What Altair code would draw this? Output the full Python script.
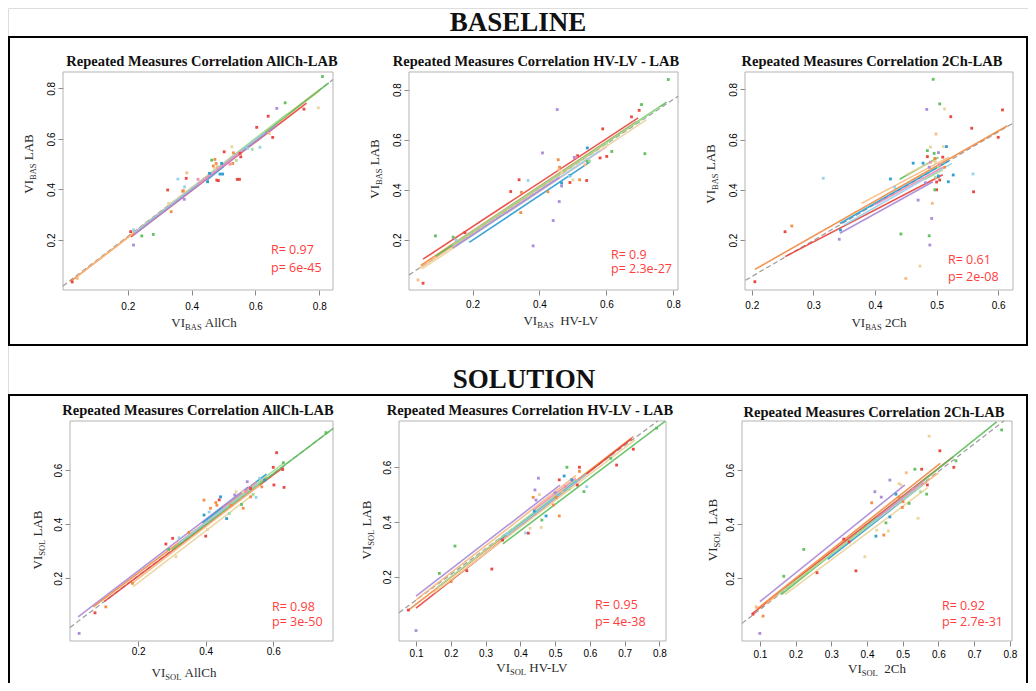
import altair as alt
import pandas as pd

SERIF = "Liberation Serif"
SANS = "Open Sans"
RED_TXT = "#FF3D3D"
TXT = "#2b2b2b"
W, H = 1020, 675

SUBJECTS = ["S1", "S2", "S3", "S4", "S5", "S6", "S7", "S8", "S9", "S10"]
SUBJECT_COLORS = ["#E8413A", "#F08A3E", "#F7B77D", "#E9D39A", "#5CBF5C",
                  "#A5DC9B", "#259BD3", "#92D0EC", "#A988D8", "#F18BB5"]

# ---------------- BASELINE : AllCh ----------------
P1_X = [0.810,0.693,0.667,0.797,0.752,0.640,0.604,0.654,0.643,0.614,0.590,0.575,0.531,0.502,0.526,0.552,0.463,0.477,0.494,0.489,0.456,0.472,0.480,0.479,0.550,0.383,0.357,0.385,0.378,0.372,0.325,0.377,0.336,0.328,0.280,0.244,0.209,0.218,0.218,0.042,0.026,0.420,0.520,0.450,0.540,0.484,0.543,0.497,0.450,0.554,0.529,0.473,0.468,0.374]
P1_Y = [0.847,0.743,0.721,0.723,0.718,0.690,0.646,0.606,0.622,0.567,0.559,0.562,0.545,0.549,0.569,0.543,0.516,0.503,0.503,0.461,0.464,0.482,0.490,0.437,0.440,0.444,0.441,0.466,0.410,0.393,0.398,0.361,0.312,0.345,0.222,0.216,0.233,0.240,0.180,0.048,0.034,0.440,0.500,0.430,0.515,0.435,0.440,0.461,0.431,0.529,0.503,0.519,0.493,0.395]
P1_S = [4,4,8,3,0,0,0,0,2,7,5,7,1,0,3,0,4,1,6,6,6,3,2,0,0,0,7,2,7,1,0,8,1,3,4,4,0,7,8,2,0,9,9,5,5,0,0,6,6,0,1,1,1,1]
P1_LS = [0,1,2,3,4,5,6,7,8,9]
P1_LX0 = [0.21,0.02,0.04,0.33,0.24,0.45,0.45,0.22,0.22,0.42]
P1_LX1 = [0.76,0.66,0.80,0.80,0.83,0.70,0.50,0.63,0.67,0.56]
P1_LY0 = [0.212,0.035,0.055,0.34,0.245,0.455,0.44,0.228,0.222,0.42]
P1_LY1 = [0.742,0.657,0.79,0.795,0.822,0.70,0.49,0.625,0.658,0.555]
P1_DX = [-0.003, 0.843]
P1_DY = [0.018, 0.835]

# ---------------- BASELINE : HV-LV ----------------
P2_X = [0.785,0.705,0.698,0.675,0.453,0.589,0.715,0.616,0.601,0.581,0.543,0.543,0.536,0.514,0.504,0.409,0.456,0.460,0.458,0.491,0.489,0.500,0.466,0.466,0.491,0.466,0.541,0.520,0.339,0.366,0.314,0.346,0.425,0.459,0.344,0.441,0.381,0.089,0.142,0.177,0.037,0.052,0.150,0.550,0.600,0.510]
P2_Y = [0.840,0.740,0.717,0.691,0.720,0.643,0.544,0.553,0.533,0.527,0.567,0.513,0.500,0.536,0.529,0.547,0.520,0.490,0.480,0.457,0.454,0.440,0.470,0.427,0.429,0.415,0.437,0.440,0.440,0.437,0.393,0.390,0.392,0.353,0.309,0.277,0.176,0.216,0.211,0.229,0.040,0.027,0.200,0.515,0.585,0.530]
P2_S = [4,4,0,0,8,0,4,4,0,0,6,4,2,0,8,8,1,1,2,6,7,3,3,6,0,8,0,1,0,7,0,1,1,8,1,8,8,4,4,0,2,0,7,5,5,9]
P2_LS = [0,9,1,2,3,4,5,6,7,8]
P2_LX0 = [0.052,0.30,0.045,0.04,0.05,0.09,0.14,0.19,0.15,0.14]
P2_LX1 = [0.695,0.60,0.69,0.60,0.72,0.78,0.76,0.55,0.58,0.46]
P2_LY0 = [0.123,0.305,0.098,0.085,0.085,0.135,0.18,0.19,0.175,0.167]
P2_LY1 = [0.687,0.571,0.672,0.585,0.68,0.75,0.73,0.51,0.555,0.45]
P2_DX = [0.01, 0.814]
P2_DY = [0.06, 0.773]

# ---------------- BASELINE : 2Ch ----------------
P3_X = [0.4945,0.484,0.505,0.513,0.523,0.607,0.557,0.600,0.499,0.490,0.511,0.516,0.485,0.496,0.503,0.510,0.485,0.478,0.462,0.497,0.498,0.503,0.488,0.513,0.527,0.503,0.498,0.505,0.519,0.500,0.482,0.559,0.560,0.500,0.497,0.425,0.470,0.493,0.492,0.442,0.488,0.489,0.473,0.450,0.254,0.265,0.205,0.344,0.342,0.316,0.432,0.490,0.505]
P3_Y = [0.840,0.720,0.742,0.722,0.691,0.718,0.645,0.609,0.622,0.570,0.572,0.572,0.556,0.545,0.548,0.530,0.532,0.506,0.506,0.525,0.510,0.490,0.490,0.490,0.459,0.455,0.450,0.439,0.432,0.431,0.428,0.463,0.392,0.400,0.400,0.443,0.359,0.346,0.286,0.224,0.217,0.180,0.096,0.047,0.233,0.256,0.034,0.240,0.203,0.446,0.410,0.510,0.500]
P3_S = [4,8,4,3,0,0,0,0,2,3,3,6,4,4,8,0,0,6,6,1,3,5,8,1,6,6,5,0,6,0,8,7,0,0,4,6,8,2,8,4,4,8,3,2,0,1,0,6,8,7,7,9,9]
P3_LS = [1,0,2,4,6,7,8,3,9,5]
P3_LX0 = [0.205,0.254,0.378,0.44,0.343,0.35,0.343,0.45,0.40,0.48]
P3_LX1 = [0.615,0.51,0.52,0.503,0.52,0.525,0.494,0.50,0.51,0.51]
P3_LY0 = [0.083,0.134,0.346,0.442,0.266,0.26,0.227,0.46,0.34,0.44]
P3_LY1 = [0.655,0.46,0.53,0.529,0.515,0.505,0.432,0.52,0.49,0.48]
P3_DX = [0.19, 0.624]
P3_DY = [0.04, 0.665]

# ---------------- SOLUTION : AllCh ----------------
P4_X = [0.756,0.610,0.628,0.600,0.630,0.632,0.602,0.575,0.560,0.566,0.549,0.523,0.533,0.533,0.506,0.511,0.510,0.486,0.490,0.475,0.444,0.440,0.430,0.433,0.414,0.395,0.395,0.462,0.410,0.400,0.405,0.321,0.302,0.282,0.290,0.312,0.350,0.183,0.104,0.072,0.025,0.520,0.540,0.470]
P4_Y = [0.738,0.664,0.602,0.610,0.627,0.536,0.545,0.563,0.570,0.538,0.499,0.557,0.532,0.501,0.473,0.459,0.520,0.508,0.520,0.470,0.501,0.490,0.480,0.470,0.459,0.489,0.434,0.421,0.445,0.356,0.380,0.350,0.348,0.327,0.307,0.280,0.370,0.182,0.095,0.073,-0.003,0.520,0.510,0.440]
P4_S = [4,0,0,0,4,0,0,6,7,1,7,8,0,1,4,1,3,8,3,1,6,0,1,1,1,1,6,6,7,0,3,7,0,0,4,3,1,1,1,0,8,9,5,5]
P4_LS = [8,1,0,4,3,2,6,7,5,9]
P4_LX0 = [0.022,0.067,0.10,0.30,0.185,0.18,0.39,0.32,0.46,0.45]
P4_LX1 = [0.526,0.58,0.63,0.777,0.546,0.56,0.58,0.56,0.63,0.55]
P4_LY0 = [0.058,0.095,0.115,0.305,0.17,0.18,0.405,0.33,0.465,0.46]
P4_LY1 = [0.538,0.575,0.61,0.753,0.515,0.545,0.585,0.555,0.625,0.555]
P4_DX = [-0.002, 0.778]
P4_DY = [0.019, 0.754]

# ---------------- SOLUTION : HV-LV ----------------
P5_X = [0.792,0.725,0.677,0.660,0.570,0.570,0.534,0.526,0.548,0.564,0.591,0.583,0.512,0.452,0.500,0.442,0.437,0.445,0.455,0.503,0.495,0.512,0.474,0.462,0.440,0.428,0.415,0.423,0.460,0.361,0.349,0.318,0.212,0.167,0.246,0.201,0.078,0.100,0.530,0.520,0.540]
P5_Y = [0.743,0.666,0.608,0.633,0.600,0.585,0.600,0.568,0.554,0.535,0.529,0.511,0.554,0.560,0.507,0.517,0.490,0.480,0.500,0.490,0.462,0.422,0.422,0.407,0.440,0.377,0.360,0.359,0.380,0.356,0.334,0.228,0.312,0.212,0.222,0.182,0.078,0.003,0.530,0.510,0.520]
P5_S = [4,0,0,4,0,1,4,6,6,0,7,4,0,8,8,8,1,8,3,1,1,1,6,4,6,3,7,0,3,7,0,0,4,4,0,1,0,8,9,2,5]
P5_LS = [8,1,0,4,3,2,6,7,5,9]
P5_LX0 = [0.10,0.078,0.10,0.35,0.15,0.10,0.34,0.36,0.16,0.44]
P5_LX1 = [0.514,0.725,0.72,0.816,0.73,0.56,0.56,0.59,0.56,0.56]
P5_LY0 = [0.129,0.078,0.085,0.32,0.14,0.115,0.335,0.35,0.16,0.445]
P5_LY1 = [0.535,0.712,0.705,0.768,0.70,0.57,0.55,0.575,0.555,0.56]
P5_DX = [0.051, 0.795]
P5_DY = [0.068, 0.769]

# ---------------- SOLUTION : 2Ch ----------------
P6_X = [0.777,0.604,0.574,0.649,0.643,0.553,0.534,0.510,0.569,0.567,0.518,0.464,0.422,0.440,0.490,0.495,0.481,0.490,0.501,0.499,0.413,0.464,0.453,0.460,0.427,0.425,0.447,0.543,0.394,0.369,0.350,0.335,0.223,0.167,0.260,0.109,0.081,0.100,0.090,0.530,0.550]
P6_Y = [0.748,0.671,0.725,0.634,0.610,0.603,0.603,0.590,0.545,0.511,0.477,0.563,0.520,0.500,0.550,0.545,0.511,0.500,0.483,0.462,0.479,0.427,0.405,0.375,0.378,0.356,0.360,0.422,0.280,0.228,0.335,0.345,0.307,0.208,0.221,0.061,0.068,-0.003,0.095,0.530,0.520]
P6_S = [4,0,3,4,0,0,4,2,0,4,4,8,8,8,3,3,6,1,1,1,1,6,4,3,3,6,1,3,3,0,0,0,4,4,0,1,0,8,2,9,5]
P6_LS = [8,0,1,4,6,3,2,5,7,9]
P6_LX0 = [0.10,0.077,0.09,0.16,0.29,0.17,0.12,0.15,0.40,0.43]
P6_LX1 = [0.506,0.641,0.605,0.763,0.57,0.57,0.60,0.55,0.55,0.56]
P6_LY0 = [0.114,0.068,0.085,0.14,0.27,0.14,0.11,0.14,0.39,0.425]
P6_LY1 = [0.545,0.649,0.625,0.778,0.56,0.535,0.59,0.54,0.545,0.56]
P6_DX = [0.05, 0.783]
P6_DY = [0.034, 0.781]

TICKS_02 = [0.2, 0.4, 0.6, 0.8]
TICKS_3 = [0.2, 0.3, 0.4, 0.5, 0.6]
TICKS_4 = [0.2, 0.4, 0.6]
TICKS_01 = [0.1, 0.2, 0.3, 0.4, 0.5, 0.6, 0.7, 0.8]

ONE = pd.DataFrame({"k": [0]})
CSCALE = alt.Scale(domain=SUBJECTS, range=SUBJECT_COLORS)

CHAR_W = {"V": 722, "I": 333, "B": 667, "A": 722, "S": 556, "O": 722, "L": 611,
          " ": 250, "l": 278, "C": 667, "h": 500, "H": 722, "-": 333, "2": 500}


def text_w(s, size):
    return sum(CHAR_W.get(c, 500) for c in s) * size / 1000.0


def ptext(x, y, txt, **kw):
    return alt.Chart(ONE).mark_text(text=txt, **kw).encode(x=alt.value(x), y=alt.value(y))


def composite_title(parts, x, y, vertical=False):
    """Axis title with a subscript, built from several text pieces."""
    total = sum(text_w(t, sz) for t, sz, _ in parts)
    off = -total / 2.0
    layers = []
    for t, sz, shift in parts:
        lead = len(t) - len(t.lstrip())
        start = off + lead * 250 * sz / 1000.0
        kw = dict(font=SERIF, fontSize=sz, align="left", baseline="alphabetic", color=TXT)
        if vertical:
            layers.append(ptext(x + shift, y - start, t.strip(), angle=270, **kw))
        else:
            layers.append(ptext(x + start, y + shift, t.strip(), **kw))
        off += text_w(t, sz)
    return layers


def bar(x1, x2, y1, y2):
    return alt.Chart(ONE).mark_rect(color="black").encode(
        x=alt.value(x1), x2=alt.value(x2), y=alt.value(y1), y2=alt.value(y2))


def panel(c):
    ox, oy, w, h = c["ox"], c["oy"], c["w"], c["h"]
    pts = pd.DataFrame([{"x": a, "y": b, "s": SUBJECTS[s]} for a, b, s in zip(c["px"], c["py"], c["ps"])])
    lines = pd.DataFrame([{"x0": a, "x1": b, "y0": d, "y1": e, "s": SUBJECTS[s]}
                          for s, a, b, d, e in zip(c["ls"], c["lx0"], c["lx1"], c["ly0"], c["ly1"])])
    dash = pd.DataFrame({"x": c["dx"], "y": c["dy"]})
    xs = alt.Scale(domain=c["xdom"], range=[ox, ox + w], nice=False, zero=False)
    ys = alt.Scale(domain=c["ydom"], range=[oy + h, oy], nice=False, zero=False)
    xax = alt.Axis(values=c["xt"], format=".1f", title=None, orient="bottom", offset=oy + h - H,
                   grid=False, domain=False, labelPadding=c["xpad"], labelBaseline="top",
                   labelAlign="center", labelFlush=False, labelOverlap=False)
    yax = alt.Axis(values=c["yt"], format=".1f", title=None, orient="left", offset=-ox,
                   grid=False, domain=False, labelAngle=270, labelAlign="center",
                   labelBaseline="alphabetic", labelPadding=4, labelFlush=False, labelOverlap=False)

    frame = alt.Chart(ONE).mark_rect(fillOpacity=0, stroke="#b3b3b3", strokeWidth=1).encode(
        x=alt.value(ox), x2=alt.value(ox + w), y=alt.value(oy), y2=alt.value(oy + h))
    dash_l = alt.Chart(dash).mark_line(strokeDash=[5, 3], color="#9a9a9a", strokeWidth=1.2).encode(
        x=alt.X("x:Q", scale=xs, axis=xax), y=alt.Y("y:Q", scale=ys, axis=yax))
    line_l = alt.Chart(lines).mark_rule(strokeWidth=1.6, opacity=0.9).encode(
        x=alt.X("x0:Q", scale=xs, axis=None), x2="x1:Q",
        y=alt.Y("y0:Q", scale=ys, axis=None), y2="y1:Q",
        color=alt.Color("s:N", scale=CSCALE, legend=None))
    pt_l = alt.Chart(pts).mark_square(size=8, opacity=0.95).encode(
        x=alt.X("x:Q", scale=xs, axis=None), y=alt.Y("y:Q", scale=ys, axis=None),
        color=alt.Color("s:N", scale=CSCALE, legend=None))

    layers = [frame, dash_l, line_l, pt_l]
    layers.append(ptext(ox + c["title_x"], oy + c["title_y"], c["title"], font=SERIF, fontSize=14.5,
                        fontWeight="bold", align="center", baseline="alphabetic", color="#111111"))
    layers.append(ptext(ox + c["rp_x"], oy + c["r_y"], c["r"], font=SANS, fontSize=12.5,
                        align="left", baseline="middle", color=RED_TXT))
    layers.append(ptext(ox + c["rp_x"], oy + c["p_y"], c["p"], font=SANS, fontSize=12.5,
                        align="left", baseline="middle", color=RED_TXT))
    xparts = [("VI", 13, 0), (c["sub"], 8.5, 3), (c["xname"], 13, 0)]
    yparts = [("VI", 13, 0), (c["sub"], 8.5, 3), (c["yname"], 13, 0)]
    layers += composite_title(xparts, ox + c["xt_pos"][0], oy + c["xt_pos"][1])
    layers += composite_title(yparts, ox + c["yt_pos"][0], oy + c["yt_pos"][1], vertical=True)
    return layers


# plot-area origins (ox, oy) and sizes, in pixels of the drawing
P1 = dict(px=P1_X, py=P1_Y, ps=P1_S, ls=P1_LS, lx0=P1_LX0, lx1=P1_LX1, ly0=P1_LY0, ly1=P1_LY1,
          dx=P1_DX, dy=P1_DY, ox=55, oy=64, w=270, h=218, xdom=[-0.003, 0.843], ydom=[0.002, 0.865],
          xt=TICKS_02, yt=TICKS_02, xpad=6.3, title="Repeated Measures Correlation AllCh-LAB",
          title_x=139, title_y=-6, r="R= 0.97", p="p= 6e-45", rp_x=208, r_y=178, p_y=196,
          sub="BAS", xname=" AllCh", xt_pos=(141, 255), yname=" LAB", yt_pos=(-30, 92))
P2 = dict(px=P2_X, py=P2_Y, ps=P2_S, ls=P2_LS, lx0=P2_LX0, lx1=P2_LX1, ly0=P2_LY0, ly1=P2_LY1,
          dx=P2_DX, dy=P2_DY, ox=401, oy=64, w=269, h=218, xdom=[0.01, 0.814], ydom=[0.0, 0.87],
          xt=TICKS_02, yt=TICKS_02, xpad=4.6, title="Repeated Measures Correlation HV-LV - LAB",
          title_x=127, title_y=-6, r="R= 0.9", p="p= 2.3e-27", rp_x=202, r_y=183, p_y=197,
          sub="BAS", xname="  HV-LV", xt_pos=(153, 253), yname=" LAB", yt_pos=(-30, 97))
P3 = dict(px=P3_X, py=P3_Y, ps=P3_S, ls=P3_LS, lx0=P3_LX0, lx1=P3_LX1, ly0=P3_LY0, ly1=P3_LY1,
          dx=P3_DX, dy=P3_DY, ox=737, oy=64, w=268, h=218, xdom=[0.189, 0.624], ydom=[0.001, 0.869],
          xt=TICKS_3, yt=TICKS_02, xpad=5.3, title="Repeated Measures Correlation 2Ch-LAB",
          title_x=127, title_y=-6, r="R= 0.61", p="p= 2e-08", rp_x=203, r_y=188, p_y=205,
          sub="BAS", xname=" 2Ch", xt_pos=(134, 255), yname=" LAB", yt_pos=(-30, 102))
P4 = dict(px=P4_X, py=P4_Y, ps=P4_S, ls=P4_LS, lx0=P4_LX0, lx1=P4_LX1, ly0=P4_LY0, ly1=P4_LY1,
          dx=P4_DX, dy=P4_DY, ox=62, oy=413, w=263, h=220, xdom=[-0.002, 0.777], ydom=[-0.031, 0.781],
          xt=TICKS_4, yt=TICKS_4, xpad=0.9, title="Repeated Measures Correlation AllCh-LAB",
          title_x=128, title_y=-6, r="R= 0.98", p="p= 3e-50", rp_x=202, r_y=186, p_y=201,
          sub="SOL", xname=" AllCh", xt_pos=(114, 256), yname=" LAB", yt_pos=(-28, 119))
P5 = dict(px=P5_X, py=P5_Y, ps=P5_S, ls=P5_LS, lx0=P5_LX0, lx1=P5_LX1, ly0=P5_LY0, ly1=P5_LY1,
          dx=P5_DX, dy=P5_DY, ox=391, oy=413, w=267, h=220, xdom=[0.051, 0.819], ydom=[-0.035, 0.769],
          xt=TICKS_01, yt=TICKS_4, xpad=2.7, title="Repeated Measures Correlation HV-LV - LAB",
          title_x=131, title_y=-6, r="R= 0.95", p="p= 4e-38", rp_x=196, r_y=184, p_y=201,
          sub="SOL", xname=" HV-LV", xt_pos=(134, 251), yname=" LAB", yt_pos=(-28, 109))
P6 = dict(px=P6_X, py=P6_Y, ps=P6_S, ls=P6_LS, lx0=P6_LX0, lx1=P6_LX1, ly0=P6_LY0, ly1=P6_LY1,
          dx=P6_DX, dy=P6_DY, ox=734, oy=413, w=270, h=220, xdom=[0.05, 0.806], ydom=[-0.031, 0.781],
          xt=TICKS_01, yt=TICKS_4, xpad=3.9, title="Repeated Measures Correlation 2Ch-LAB",
          title_x=132, title_y=-4, r="R= 0.92", p="p= 2.7e-31", rp_x=200, r_y=185, p_y=201,
          sub="SOL", xname="  2Ch", xt_pos=(135, 252), yname="  LAB", yt_pos=(-25, 109))

# section frames and headings
deco = [
    bar(0, W, 28, 30), bar(0, W, 336, 338), bar(0, 2, 28, 338), bar(W - 2, W, 28, 338),
    bar(0, W, 386, 388), bar(0, 2, 386, H), bar(W - 2, W, 386, H),
    ptext(510, 23, "BASELINE", font=SERIF, fontSize=27, fontWeight="bold",
          align="center", baseline="alphabetic", color="#111111"),
    ptext(516, 380, "SOLUTION", font=SERIF, fontSize=27, fontWeight="bold",
          align="center", baseline="alphabetic", color="#111111"),
]

layers = list(deco)
for cfg in (P1, P2, P3, P4, P5, P6):
    layers += panel(cfg)

chart = alt.layer(*layers).resolve_scale(
    x="independent", y="independent", color="shared"
).properties(
    width=W, height=H, padding=0, autosize=alt.AutoSizeParams(type="none")
).configure_view(
    strokeWidth=0, strokeOpacity=0
).configure_axis(
    labelFont=SERIF, labelFontSize=13.5, labelColor="#333333", tickColor="#777777",
    tickSize=3, domain=False, grid=False, gridOpacity=0
).configure(background="white")

chart.save("out.html", embed_options={"renderer": "svg", "actions": False})
